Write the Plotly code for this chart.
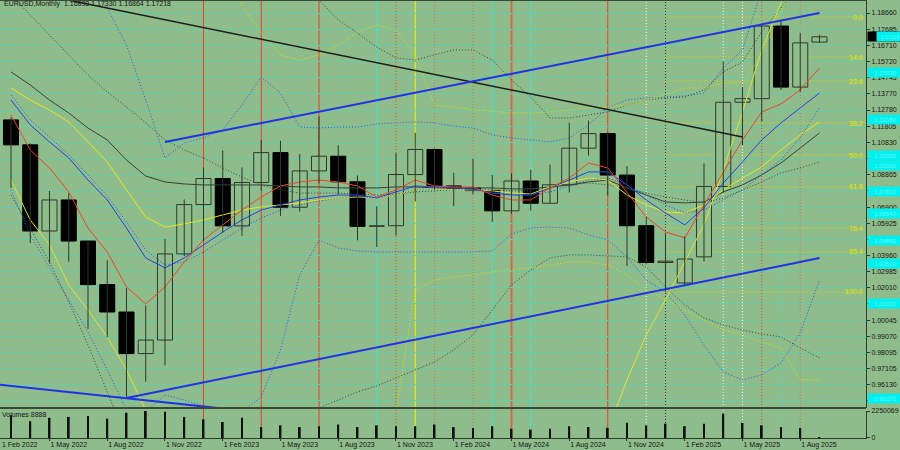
import plotly.graph_objects as go

# ---------------- data ----------------
months = ["Mar 2022", "Apr 2022", "May 2022", "Jun 2022", "Jul 2022", "Aug 2022", "Sep 2022", "Oct 2022",
          "Nov 2022", "Dec 2022", "Jan 2023", "Feb 2023", "Mar 2023", "Apr 2023", "May 2023", "Jun 2023",
          "Jul 2023", "Aug 2023", "Sep 2023", "Oct 2023", "Nov 2023", "Dec 2023", "Jan 2024", "Feb 2024",
          "Mar 2024", "Apr 2024", "May 2024", "Jun 2024", "Jul 2024", "Aug 2024", "Sep 2024", "Oct 2024",
          "Nov 2024", "Dec 2024", "Jan 2025", "Feb 2025", "Mar 2025", "Apr 2025", "May 2025", "Jun 2025",
          "Jul 2025", "Aug 2025", "Sep 2025"]

opens = [1.1218, 1.1067, 1.0545, 1.0733, 1.0484, 1.0220, 1.0054, 0.9802, 0.9884, 1.0406,
         1.0705, 1.0863, 1.0576, 1.0839, 1.1020, 1.0689, 1.0909, 1.0998, 1.0843, 1.0573,
         1.0577, 1.0887, 1.1039, 1.0818, 1.0805, 1.0790, 1.0667, 1.0848, 1.0713, 1.0825,
         1.1047, 1.1135, 1.0884, 1.0577, 1.0354, 1.0230, 1.0388, 1.0815, 1.1325, 1.1347,
         1.1787, 1.1417, 1.16898]
highs = [1.1233, 1.1076, 1.0787, 1.0774, 1.0486, 1.0368, 1.0198, 1.0094, 1.0497, 1.0736,
         1.0929, 1.1033, 1.0930, 1.1095, 1.1092, 1.1012, 1.1240, 1.1065, 1.0882, 1.0695,
         1.1017, 1.1140, 1.1046, 1.0898, 1.0981, 1.0885, 1.0895, 1.0916, 1.0948, 1.1202,
         1.1214, 1.1144, 1.0937, 1.0630, 1.0533, 1.0513, 1.0955, 1.1573, 1.1418, 1.1800,
         1.1824, 1.1745, 1.17330]
lows = [1.0806, 1.0471, 1.0349, 1.0359, 0.9952, 0.9901, 0.9535, 0.9632, 0.9730, 1.0393,
        1.0483, 1.0533, 1.0516, 1.0788, 1.0635, 1.0662, 1.0834, 1.0766, 1.0488, 1.0448,
        1.0517, 1.0724, 1.0795, 1.0695, 1.0767, 1.0601, 1.0650, 1.0668, 1.0709, 1.0778,
        1.1002, 1.0761, 1.0333, 1.0343, 1.0178, 1.0210, 1.0360, 1.0778, 1.1065, 1.1210,
        1.1400, 1.1388, 1.16864]
closes = [1.1067, 1.0545, 1.0733, 1.0484, 1.0220, 1.0054, 0.9802, 0.9884, 1.0406, 1.0705,
          1.0863, 1.0576, 1.0839, 1.1020, 1.0689, 1.0909, 1.0998, 1.0843, 1.0573, 1.0577,
          1.0887, 1.1039, 1.0818, 1.0805, 1.0790, 1.0667, 1.0848, 1.0713, 1.0825, 1.1047,
          1.1135, 1.0884, 1.0577, 1.0354, 1.0362, 1.0375, 1.0815, 1.1325, 1.1347, 1.1787,
          1.1417, 1.1685, 1.17218]
volumes = [1898000, 1406000, 1688000, 1758000, 1828000, 1617000, 2110000, 2250069, 2180000, 1758000,
           1547000, 1336000, 1688000, 914000, 1055000, 914000, 984000, 1125000, 914000, 1055000,
           984000, 984000, 1125000, 914000, 844000, 984000, 773000, 703000, 773000, 984000,
           914000, 844000, 1266000, 1055000, 1195000, 984000, 1195000, 2039000, 1266000, 1055000,
           914000, 844000, 40000]

# indicator lines
ma_red = [1.1248, 1.1036, 1.0927, 1.0782, 1.0563, 1.0418, 1.0206, 1.0103, 1.0206, 1.0357,
          1.0491, 1.0582, 1.0672, 1.0751, 1.0818, 1.0842, 1.0854, 1.0842, 1.0818, 1.0751,
          1.0794, 1.0854, 1.0818, 1.0812, 1.0812, 1.0763, 1.0733, 1.0733, 1.0806, 1.0866,
          1.0957, 1.0927, 1.0775, 1.0630, 1.0539, 1.0503, 1.0703, 1.0903, 1.1097, 1.1266,
          1.1315, 1.1400, 1.1533]
ma_blue = [1.1339, 1.1188, 1.1085, 1.0988, 1.0854, 1.0733, 1.0563, 1.0382, 1.0321, 1.0382,
           1.0460, 1.0539, 1.0612, 1.0672, 1.0703, 1.0733, 1.0751, 1.0763, 1.0763, 1.0745,
           1.0782, 1.0818, 1.0812, 1.0806, 1.0800, 1.0775, 1.0763, 1.0763, 1.0806, 1.0854,
           1.0903, 1.0903, 1.0824, 1.0733, 1.0654, 1.0582, 1.0685, 1.0836, 1.0963, 1.1097,
           1.1200, 1.1291, 1.1381]
ma_blue_dot = [1.1369, 1.1218, 1.1115, 1.1006, 1.0885, 1.0757, 1.0600, 1.0430, 1.0339, 1.0357,
               1.0418, 1.0491, 1.0563, 1.0624, 1.0672, 1.0703, 1.0727, 1.0745, 1.0751, 1.0745,
               1.0763, 1.0794, 1.0800, 1.0800, 1.0794, 1.0782, 1.0769, 1.0763, 1.0782, 1.0818,
               1.0854, 1.0866, 1.0824, 1.0763, 1.0703, 1.0654, 1.0672, 1.0733, 1.0794, 1.0885,
               1.0975, 1.1109, 1.1291]
ma_yellow = [1.1412, 1.1339, 1.1278, 1.1206, 1.1085, 1.0963, 1.0794, 1.0630, 1.0569, 1.0588,
             1.0612, 1.0642, 1.0672, 1.0691, 1.0703, 1.0715, 1.0733, 1.0745, 1.0751, 1.0745,
             1.0763, 1.0794, 1.0800, 1.0794, 1.0794, 1.0788, 1.0775, 1.0769, 1.0812, 1.0842,
             1.0866, 1.0854, 1.0763, 1.0703, 1.0660, 1.0654, 1.0703, 1.0794, 1.0866, 1.0933,
             1.1036, 1.1127, 1.1206]
ma_dark = [1.1509, 1.1430, 1.1339, 1.1260, 1.1169, 1.1097, 1.0975, 1.0878, 1.0842, 1.0830,
           1.0824, 1.0824, 1.0824, 1.0824, 1.0818, 1.0812, 1.0812, 1.0806, 1.0806, 1.0806,
           1.0812, 1.0812, 1.0806, 1.0806, 1.0806, 1.0806, 1.0800, 1.0800, 1.0812, 1.0824,
           1.0842, 1.0854, 1.0806, 1.0763, 1.0721, 1.0715, 1.0721, 1.0782, 1.0824, 1.0885,
           1.0957, 1.1048, 1.1139]
ma_gray_dot = [1.1975, 1.1854, 1.1733, 1.1612, 1.1490, 1.1388, 1.1297, 1.1200, 1.1097, 1.1036,
               1.0988, 1.0927, 1.0872, 1.0824, 1.0794, 1.0775, 1.0775, 1.0775, 1.0769, 1.0763,
               1.0769, 1.0782, 1.0788, 1.0794, 1.0794, 1.0794, 1.0788, 1.0788, 1.0806, 1.0824,
               1.0836, 1.0824, 1.0806, 1.0775, 1.0751, 1.0733, 1.0715, 1.0745, 1.0794, 1.0842,
               1.0897, 1.0927, 1.0963]
band_blue_up = [None, None, None, None, 1.2036, 1.1897, 1.1672, 1.1339, 1.0988, 1.1078,
                1.1109, 1.1157, 1.1309, 1.1478, 1.1381, 1.1175, 1.1169, 1.1175, 1.1175, 1.1194,
                1.1200, 1.1206, 1.1200, 1.1181, 1.1169, 1.1127, 1.1109, 1.1097, 1.1085, 1.1109,
                1.1188, 1.1291, 1.1339, 1.1351, 1.1357, 1.1363, 1.1381, 1.1533, 1.1642, 1.2006,
                None, None, None]
band_blue_low = [1.0794, 1.0521, 1.0321, 1.0127, 0.9933, 0.9703, 0.9460, 0.9448, 0.9551, 0.9521,
                 0.9485, 0.9430, 0.9448, 0.9539, 0.9824, 1.0279, 1.0491, 1.0442, 1.0424, 1.0418,
                 1.0418, 1.0418, 1.0418, 1.0418, 1.0418, 1.0424, 1.0527, 1.0563, 1.0569, 1.0563,
                 1.0521, 1.0491, 1.0388, 1.0248, 1.0176, 1.0036, 0.9854, 0.9691, 0.9642, 0.9673,
                 0.9745, 0.9927, 1.0248]
band_gray_up = [None] * 15 + [1.2066, 1.1945, 1.1824, 1.1745, 1.1660, 1.1594, 1.1581, 1.1612, 1.1642,
                              1.1642, 1.1581, 1.1460, 1.1357, 1.1230, 1.1230, 1.1248, 1.1266, 1.1309,
                              1.1339, 1.1351, 1.1357, 1.1400, 1.1509, 1.1569, 1.1751, 1.1897, 1.2036] + [None]
band_gray_low = [1.0763, 1.0563, 1.0357, 1.0115, 0.9854, 0.9570, 0.9279, None, None, None,
                 None, None, None, None, None, 0.9400, 0.9473, 0.9521, 0.9570, 0.9606,
                 0.9654, 0.9703, 0.9751, 0.9824, 0.9915, 1.0066, 1.0218, 1.0309, 1.0382, 1.0400,
                 1.0400, 1.0394, 1.0388, 1.0327, 1.0206, 1.0097, 1.0018, 0.9976, 0.9945, 0.9921,
                 0.9903, 0.9836, 0.9776]
band_yellow_up = [None] * 11 + [1.2097, 1.1915, 1.1745, 1.1612, 1.1581, 1.1612, 1.1672, 1.1751, 1.1794,
                                1.1763, 1.1612, 1.1309, 1.1297, 1.1278, 1.1272, 1.1260, 1.1260, 1.1266,
                                1.1278, 1.1291, 1.1297, 1.1309, 1.1339, 1.1369, 1.1412, 1.1412, 1.1442,
                                1.1442, 1.1612, 1.1884, 1.2097] + [None]
band_yellow_fast = [1.0854, 1.0612, 1.0460, 1.0218, 1.0066, 0.9903, 0.9703, 0.9460] + [None] * 23 + \
                   [0.9339, 0.9642, 0.9915, 1.0127, 1.0357, 1.0582, 1.0915, 1.1266, 1.1642, 1.1927, 1.2187, None]
band_yellow_low = [None] * 19 + [0.9157, 0.9448, 1.0188, 1.0248, 1.0266, 1.0279, 1.0297, 1.0309, 1.0321,
                                 1.0339, 1.0357, 1.0357, 1.0339, 1.0279, 1.0188, 1.0127, 1.0066, 1.0006,
                                 0.9945, 0.9915, 0.9872, 0.9836, 0.9642, 0.9642]

# trend lines: (month index, price) end points
trend_upper = ([8, 42], [1.1084, 1.1866])
trend_lower = ([6, 42], [0.9533, 1.0381])
trend_lower_left = ([-1, 11], [0.9618, 0.9469])
trend_black = ([1, 38], [1.1991, 1.1115])

# fibonacci levels
fib_names = ["0.0", "14.6", "23.6", "38.2", "50.0", "61.8", "76.4", "85.4", "100.0"]
fib_prices = [1.18418, 1.15994, 1.14539, 1.11994, 1.10055, 1.08116, 1.05631, 1.04177, 1.01753]
fib_start = "Jan 2025"

# vertical marker lines
vline_months = ["Jan 2023", "Apr 2023", "Jul 2023", "Oct 2023", "Nov 2023", "Dec 2023", "Jan 2024",
                "Mar 2024", "Apr 2024", "May 2024", "Jun 2024", "Oct 2024", "Dec 2024", "Jan 2025",
                "Apr 2025", "May 2025", "Jun 2025", "Jul 2025", "Aug 2025"]
vline_colors = ["#e4402c", "#e4402c", "#e4402c", "#3fe3d3", "#e4402c", "#f2f200", "#c8785a",
                "#c8785a", "#3fe3d3", "#d06a4e", "#3fe3d3", "#e4402c", "#eef4ee", "#3a3a3a",
                "#eef4ee", "#eef4ee", "#e4402c", "#3fe3d3", "#c8785a"]
vline_dash = ["solid", "solid", "solid", "solid", "1px,2px", "solid", "1px,2px",
              "1px,2px", "solid", "solid", "solid", "solid", "1px,2px", "1px,2px",
              "1px,2px", "1px,2px", "1px,2px", "1px,2px", "1px,2px"]
vline_width = [1, 1, 1, 1, 1, 1, 1, 1, 1, 2, 1, 1, 1, 1, 1, 1, 1, 1, 1]

# price axis ticks (labels hidden where a highlighted price box covers them)
price_ticks = [1.18660, 1.17685, 1.16710, 1.15720, 1.14745, 1.13770, 1.12780, 1.11805, 1.10830,
               1.09840, 1.08865, 1.07890, 1.06900, 1.05925, 1.04950, 1.03960, 1.02985, 1.02010,
               1.01035, 1.00045, 0.99070, 0.98095, 0.97105, 0.96130, 0.95155]
hidden_ticks = [1.09840, 1.07890, 1.04950, 1.01035, 0.95155]
marker_prices = [1.1503, 1.1218, 1.1000, 1.0939, 1.0782, 1.0654, 1.0485, 1.0351, 1.0103, 0.9527]
last_price = 1.17218

date_labels = ["1 May 2022", "1 Aug 2022", "1 Nov 2022", "1 Feb 2023", "1 May 2023", "1 Aug 2023",
               "1 Nov 2023", "1 Feb 2024", "1 May 2024", "1 Aug 2024", "1 Nov 2024", "1 Feb 2025",
               "1 May 2025", "1 Aug 2025"]
first_label = "1 Feb 2022"

header = "EURUSD,Monthly  1.16898 1.17330 1.16864 1.17218"
vol_title = "Volumes 8888"
vol_max = 2250069

# ---------------- styling ----------------
BG = "#8fbc8b"
FONT = "Liberation Sans"
X_RANGE = [-0.571, 44.416]
Y_RANGE = [0.94723, 1.19448]
MAIN_DOM = [0.0685, 1.0]
VOL_DOM = [0.0, 0.0616]

idx = list(range(len(months)))
pos = {m: i for i, m in enumerate(months)}

fig = go.Figure()


def add_line(vals, color, dash="solid", width=1.0, x=None):
    fig.add_trace(go.Scatter(x=idx if x is None else x, y=vals, mode="lines",
                             line=dict(color=color, width=width, dash=dash),
                             hoverinfo="skip", showlegend=False, xaxis="x", yaxis="y"))


DOT = "1px,2px"
# bands
add_line(band_blue_up, "#3456f0", DOT)
add_line(band_blue_low, "#3456f0", DOT)
add_line(band_gray_up, "#37473a", DOT)
add_line(band_gray_low, "#37473a", DOT)
add_line(band_yellow_up, "#e2e200", DOT)
add_line(band_yellow_low, "#e2e200", DOT)
add_line(band_yellow_fast, "#d8e23a", "solid", 1)
# moving averages
add_line(ma_gray_dot, "#3c4c3e", DOT)
add_line(ma_dark, "#34443a", "solid", 1)
add_line(ma_yellow, "#e6e61a", "solid", 1)
add_line(ma_blue_dot, "#3050e8", DOT)
add_line(ma_blue, "#2444e6", "solid", 1)
add_line(ma_red, "#e8482c", "solid", 1)

# candle wicks
wx, wy = [], []
for i, h, l in zip(idx, highs, lows):
    wx += [i, i, None]
    wy += [l, h, None]
fig.add_trace(go.Scatter(x=wx, y=wy, mode="lines", line=dict(color="#2c3a2c", width=1),
                         hoverinfo="skip", showlegend=False, xaxis="x", yaxis="y"))

# candle bodies
bases = [min(o, c) for o, c in zip(opens, closes)]
heights = [max(abs(c - o), 0.0004) for o, c in zip(opens, closes)]
fills = [BG if c >= o else "#000000" for o, c in zip(opens, closes)]
edges = ["#2c3a2c" if c >= o else "#000000" for o, c in zip(opens, closes)]
fig.add_trace(go.Bar(x=idx, y=heights, base=bases, width=0.78,
                     marker=dict(color=fills, line=dict(color=edges, width=1)),
                     hoverinfo="skip", showlegend=False, xaxis="x", yaxis="y"))

# trend lines
add_line(trend_black[1], "#1c1c1c", "solid", 1.5, x=trend_black[0])
add_line(trend_upper[1], "#1f32e6", "solid", 2, x=trend_upper[0])
add_line(trend_lower[1], "#1f32e6", "solid", 2, x=trend_lower[0])
add_line(trend_lower_left[1], "#1f32e6", "solid", 2, x=trend_lower_left[0])

# volumes
fig.add_trace(go.Bar(x=idx, y=volumes, width=0.1, marker=dict(color="#101010", line=dict(width=0)),
                     hoverinfo="skip", showlegend=False, xaxis="x2", yaxis="y2"))

shapes = []
for m, col, dsh, w in zip(vline_months, vline_colors, vline_dash, vline_width):
    shapes.append(dict(type="line", xref="x", yref="paper", x0=pos[m], x1=pos[m], y0=0, y1=1,
                       line=dict(color=col, width=w, dash=dsh), layer="below"))
for p in fib_prices:
    shapes.append(dict(type="line", xref="x", yref="y", x0=pos[fib_start], x1=X_RANGE[1], y0=p, y1=p,
                       line=dict(color="#dede00", width=1, dash=DOT), layer="below"))
# panel borders
shapes.append(dict(type="line", xref="paper", yref="paper", x0=0, x1=1, y0=MAIN_DOM[0], y1=MAIN_DOM[0],
                   line=dict(color="#3a4a3a", width=2)))
shapes.append(dict(type="line", xref="paper", yref="paper", x0=0, x1=1, y0=1, y1=1,
                   line=dict(color="#3a4a3a", width=2)))

annotations = []
annotations.append(dict(xref="paper", yref="paper", x=0, y=1, xanchor="left", yanchor="top", xshift=2, yshift=2,
                        text=header, showarrow=False, font=dict(family=FONT, size=7, color="#151515")))
annotations.append(dict(xref="paper", yref="paper", x=0, y=VOL_DOM[1], xanchor="left", yanchor="top",
                        xshift=0, yshift=2, text=vol_title, showarrow=False,
                        font=dict(family=FONT, size=7, color="#151515")))
for name, p in zip(fib_names, fib_prices):
    annotations.append(dict(xref="paper", yref="y", x=1, y=p, xanchor="right", yanchor="middle", xshift=-1,
                            text=name, showarrow=False, font=dict(family=FONT, size=7, color="#e4e400")))
for p in marker_prices:
    annotations.append(dict(xref="paper", yref="y", x=1, y=p, xanchor="left", yanchor="middle", xshift=1,
                            text="%.5f" % p, showarrow=False, bgcolor="#00f0f0", width=33, height=7,
                            font=dict(family=FONT, size=6, color="#60fafa")))
annotations.append(dict(xref="paper", yref="y", x=1, y=last_price, xanchor="left", yanchor="middle", xshift=1,
                        text="", showarrow=False, bgcolor="#000000", width=33, height=7))
annotations.append(dict(xref="paper", yref="y", x=1, y=last_price, xanchor="left", yanchor="middle", xshift=10,
                        text="%.5f" % last_price, showarrow=False, bgcolor="#00f0f0", width=24, height=7,
                        font=dict(family=FONT, size=5, color="#60fafa")))
annotations.append(dict(xref="paper", yref="paper", x=0, y=0, xanchor="left", yanchor="top", xshift=0, yshift=-1,
                        text=first_label, showarrow=False, font=dict(family=FONT, size=7, color="#151515")))

tick_text = ["" if v in hidden_ticks else "%.5f" % v for v in price_ticks]

fig.update_layout(
    width=900, height=450,
    margin=dict(l=0, r=34, t=0, b=12, autoexpand=False),
    paper_bgcolor=BG, plot_bgcolor=BG,
    showlegend=False, barmode="overlay", hovermode=False,
    shapes=shapes, annotations=annotations,
    xaxis=dict(domain=[0, 1], range=X_RANGE, anchor="y", showticklabels=False, showgrid=False,
               zeroline=False, showline=False, fixedrange=True),
    yaxis=dict(domain=MAIN_DOM, range=Y_RANGE, side="right", anchor="x",
               tickvals=price_ticks, ticktext=tick_text,
               tickfont=dict(family=FONT, size=7, color="#151515"),
               showgrid=True, gridcolor="#46d8c4", griddash="dot", gridwidth=1,
               showline=True, linecolor="#2e3a2e", linewidth=1, ticks="outside", ticklen=3,
               tickcolor="#2e3a2e", zeroline=False, fixedrange=True),
    xaxis2=dict(domain=[0, 1], range=X_RANGE, anchor="y2",
                tickvals=[pos[l[2:]] for l in date_labels], ticktext=date_labels,
                ticklabelposition="outside right", ticks="outside", ticklen=2, tickcolor="#2e3a2e",
                tickfont=dict(family=FONT, size=7, color="#151515"),
                showgrid=False, zeroline=False, showline=True, linecolor="#2e3a2e", fixedrange=True),
    yaxis2=dict(domain=VOL_DOM, range=[0, vol_max], side="right", anchor="x2",
                tickvals=[0, vol_max], ticktext=["0", str(vol_max)],
                tickfont=dict(family=FONT, size=7, color="#151515"),
                showgrid=False, zeroline=False, showline=True, linecolor="#2e3a2e", ticks="outside",
                ticklen=3, tickcolor="#2e3a2e", fixedrange=True),
)

fig.write_html("out.html", config={"displayModeBar": False},
               post_script="document.body.style.margin='0px';document.body.style.overflow='hidden';")
